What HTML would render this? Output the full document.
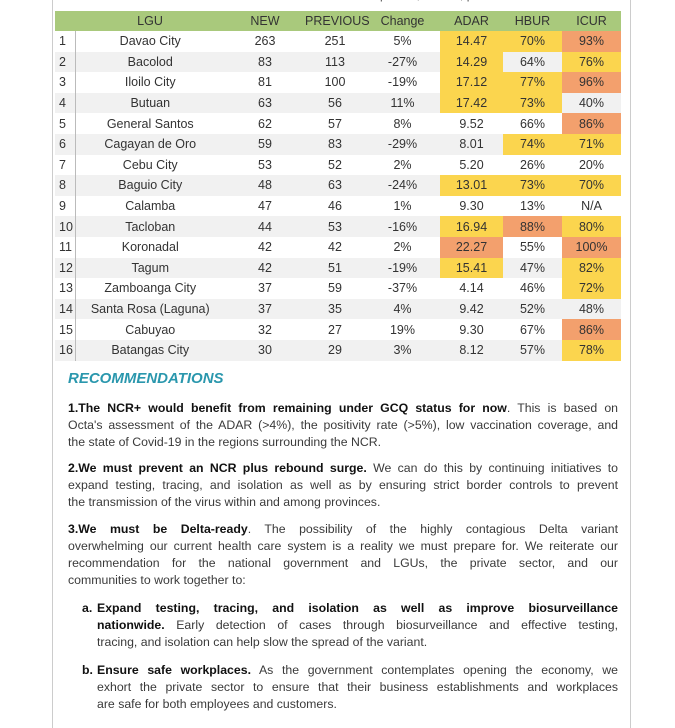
<!DOCTYPE html>
<html><head><meta charset="utf-8"><style>
body{margin:0;width:675px;height:715px;overflow:hidden;background:#fff;font-family:"Liberation Sans",sans-serif;color:#333;position:relative}
#page{position:absolute;left:52px;top:-2px;width:577px;height:730px;border-left:1px solid #ccc;border-right:1px solid #ccc}
table{position:absolute;left:55px;top:11px;border-collapse:collapse;font-size:12.5px;color:#333;table-layout:fixed;width:566px}
td,th{padding:0;text-align:center;height:20.6px;line-height:20px}
th{background:#a9c97c;font-weight:normal;height:20px;color:#333}
tr.g td{background:#f1f1f1}
td.n{text-align:left;padding-left:4px;border-right:1px solid #bbb}
td.y{background:#fbd54e!important}
td.o{background:#f3a06d!important}
.t{position:absolute;left:68px;width:550px;font-size:12.3px;line-height:17px;color:#3a3a3a}
.t div{text-align:justify;text-align-last:justify;white-space:nowrap;height:17px}
.t div.l{text-align-last:left}
.t b{color:#111}
#rec{position:absolute;left:68px;top:370px;color:#2a97ad;font-weight:bold;font-style:italic;font-size:15px}
.sub{left:97px!important;width:521px!important}
.sub span.k{position:absolute;left:-15px;font-weight:bold;color:#111}
</style></head><body>
<div id="page"></div>
<div style="position:absolute;left:380px;top:-12px;font-size:12px;color:#555">p..... ..., ..........., p.... ..</div>
<table>
<colgroup><col style="width:20px"><col style="width:150px"><col style="width:80px"><col style="width:60px"><col style="width:75px"><col style="width:63px"><col style="width:59px"><col style="width:59px"></colgroup>
<thead><tr><th></th><th>LGU</th><th>NEW</th><th>PREVIOUS</th><th>Change</th><th>ADAR</th><th>HBUR</th><th>ICUR</th></tr></thead>
<tbody id="tb"></tbody></table>
<div id="rec">RECOMMENDATIONS</div>
<div class="t" style="top:400px">
<div><b>1.The NCR+ would benefit from remaining under GCQ status for now</b>. This is based on</div>
<div>Octa's assessment of the ADAR (&gt;4%), the positivity rate (&gt;5%), low vaccination coverage, and</div>
<div class="l">the state of Covid-19 in the regions surrounding the NCR.</div></div>
<div class="t" style="top:460px">
<div><b>2.We must prevent an NCR plus rebound surge.</b> We can do this by continuing initiatives to</div>
<div>expand testing, tracing, and isolation as well as by ensuring strict border controls to prevent</div>
<div class="l">the transmission of the virus within and among provinces.</div></div>
<div class="t" style="top:521px">
<div><b>3.We must be Delta-ready</b>. The possibility of the highly contagious Delta variant</div>
<div>overwhelming our current health care system is a reality we must prepare for. We reiterate our</div>
<div>recommendation for the national government and LGUs, the private sector, and our</div>
<div class="l">communities to work together to:</div></div>
<div class="t sub" style="top:600px"><span class="k">a.</span>
<div><b>Expand testing, tracing, and isolation as well as improve biosurveillance</b></div>
<div><b>nationwide.</b> Early detection of cases through biosurveillance and effective testing,</div>
<div class="l">tracing, and isolation can help slow the spread of the variant.</div></div>
<div class="t sub" style="top:662px"><span class="k">b.</span>
<div><b>Ensure safe workplaces.</b> As the government contemplates opening the economy, we</div>
<div>exhort the private sector to ensure that their business establishments and workplaces</div>
<div class="l">are safe for both employees and customers.</div></div>
<script>
const lgus=["Davao City","Bacolod","Iloilo City","Butuan","General Santos","Cagayan de Oro","Cebu City","Baguio City","Calamba","Tacloban","Koronadal","Tagum","Zamboanga City","Santa Rosa (Laguna)","Cabuyao","Batangas City"];
const newCases=[263,83,81,63,62,59,53,48,47,44,42,42,37,37,32,30];
const prevCases=[251,113,100,56,57,83,52,63,46,53,42,51,59,35,27,29];
const change=["5%","-27%","-19%","11%","8%","-29%","2%","-24%","1%","-16%","2%","-19%","-37%","4%","19%","3%"];
const adar=["14.47","14.29","17.12","17.42","9.52","8.01","5.20","13.01","9.30","16.94","22.27","15.41","4.14","9.42","9.30","8.12"];
const hbur=["70%","64%","77%","73%","66%","74%","26%","73%","13%","88%","55%","47%","46%","52%","67%","57%"];
const icur=["93%","76%","96%","40%","86%","71%","20%","70%","N/A","80%","100%","82%","72%","48%","86%","78%"];
const adarC="yyyy...y.yoy....";
const hburC="y.yy.y.y.o......";
const icurC="oyo.oy.y.yoyy.oy";
const cls={y:"y",o:"o",".":""};
const tb=document.getElementById('tb');
lgus.forEach((l,i)=>{
 const tr=document.createElement('tr');
 
 
 if(i%2==1)tr.className='g';
 const vals=[i+1,l,newCases[i],prevCases[i],change[i],adar[i],hbur[i],icur[i]];
 vals.forEach((v,j)=>{
  const td=document.createElement('td');
  
  
  td.textContent=v;
  if(j==0)td.className='n';
  if(j==5)td.className=cls[adarC[i]];
  if(j==6)td.className=cls[hburC[i]];
  if(j==7)td.className=cls[icurC[i]];
  tr.appendChild(td);
 });
 tb.appendChild(tr);
});
</script>
</body></html>
